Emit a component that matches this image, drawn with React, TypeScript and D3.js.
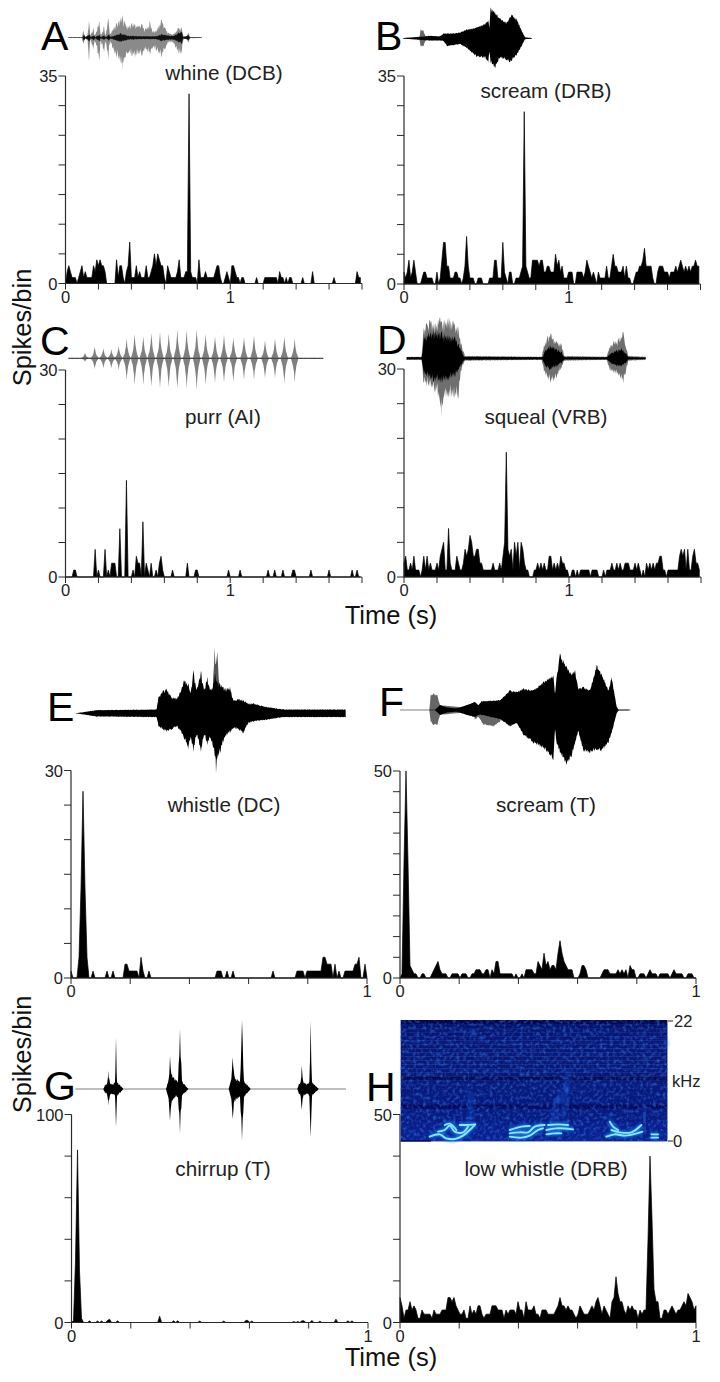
import React from "react";
import * as d3 from "d3";

// ---------- spike counts per bin ----------
const whineCounts = [0,2,3,2,1,1,1,0,1,2, 3,1,2,1,1,1,1,3,2,4, 3,4,3,3,2,0,0,0,0,0, 0,4,1,3,3,1,0,2,3,7, 1,1,1,3,1,2,1,1,1,3, 1,1,2,3,5,3,5,4,3,3, 1,0,3,2,1,1,1,1,2,4, 1,1,1,2,2,32,2,1,1,1, 0,4,1,1,1,2,1,1,1,1, 1,2,3,3,1,0,0,1,2,1, 0,3,3,2,1,1,0,1,1,0, 0,0,0,0,0,0,1,0,0,0, 0,1,1,1,1,1,1,1,1,0, 2,1,1,0,1,0,1,1,0,0, 0,0,0,0,1,0,0,0,0,0, 2,0,0,0,0,0,0,0,0,0, 0,0,0,1,0,0,0,0,0,0, 0,0,0,0,0,0,0,2,1,1];
const screamDrbCounts = [2,1,2,4,1,2,4,2,0,0, 0,1,2,2,1,1,1,1,0,0, 2,0,1,4,7,7,3,3,1,1, 1,2,2,1,1,0,1,3,8,3, 1,1,1,0,0,1,1,1,0,0, 0,0,1,1,1,4,4,1,1,1, 7,2,1,0,2,2,0,0,1,1, 1,2,3,29,3,2,1,1,4,4, 4,4,3,4,4,2,2,3,3,2, 2,2,5,3,4,2,3,1,1,1, 2,2,2,0,0,2,2,2,2,1, 2,4,3,2,1,2,1,0,2,1, 1,1,1,3,1,1,3,5,3,3, 2,2,2,3,1,3,1,1,0,0, 1,2,2,3,3,4,6,3,3,3, 3,1,0,0,2,3,3,3,2,2, 2,1,2,2,2,3,2,3,4,3, 2,3,2,3,2,3,3,4,3,3];
const purrSpikes = [[5,1],[6,1],[18,4],[20,1],[24,4],[26,1],[28,2],[29,2],[30,2],[33,7],[37,14],[41,1],[43,3],[44,2],[45,2],[47,8],[49,2],[50,1],[52,2],[55,1],[57,2],[58,3],[59,1],[65,1],[74,2],[79,1],[80,1],[99,1],[106,1],[123,1],[127,1],[132,1],[138,1],[139,1],[149,1],[160,1],[174,1],[177,1]];
const squealCounts = [2,3,1,1,2,1,3,1,1,1, 0,1,3,1,3,1,2,1,1,1, 2,1,3,4,5,1,1,7,2,1, 1,1,3,2,1,1,2,4,3,4, 6,5,3,3,4,4,2,2,1,1, 1,1,1,1,2,1,1,1,2,1, 3,5,18,4,3,4,1,5,3,5, 1,5,4,2,1,1,0,0,0,1, 1,2,1,2,1,2,1,1,3,3, 1,2,1,2,1,3,2,2,1,1, 0,0,1,1,0,1,0,1,1,1, 1,1,1,0,1,1,1,1,0,0, 0,1,0,1,1,1,2,1,1,2, 1,2,1,1,2,2,2,1,1,1, 2,1,2,1,0,1,0,2,1,2, 1,2,1,2,2,3,3,1,1,0, 1,1,1,1,1,1,1,3,4,3, 4,1,4,1,1,3,4,2,2,1];
const whistleSpikes = [[0,1],[4,3],[5,13],[6,27],[7,13],[8,3],[11,1],[18,1],[21,1],[27,2],[28,2],[29,1],[30,1],[31,1],[32,1],[33,1],[35,3],[36,1],[39,1],[73,1],[74,1],[75,1],[78,1],[81,1],[101,1],[113,1],[114,1],[115,1],[116,1],[118,1],[119,1],[120,1],[121,1],[122,1],[123,1],[124,1],[125,1],[126,3],[127,3],[128,2],[129,2],[130,2],[132,2],[134,1],[137,1],[138,1],[139,1],[140,1],[141,1],[142,2],[143,2],[144,3],[147,2]];
const screamTCounts = [0,1,28,50,28,3,2,1,1,0, 0,1,1,0,0,0,1,2,3,4, 2,1,1,1,0,0,1,1,1,1, 0,1,1,1,0,0,1,1,2,2, 2,1,1,2,2,0,2,1,4,4, 1,1,1,1,1,1,1,0,1,0, 0,1,0,2,2,2,2,1,1,4, 3,2,6,3,4,2,3,3,2,6, 9,6,4,3,2,2,2,0,0,0, 1,3,3,2,0,0,0,0,0,0, 0,1,2,2,2,1,1,1,1,2, 1,2,1,2,0,3,2,2,0,0, 1,1,1,0,1,2,1,1,1,0, 1,1,1,1,1,0,1,2,1,1, 1,1,0,0,1,1,1,0,0];
const chirrupSpikes = [[1,1],[2,30],[3,83],[4,25],[5,2],[9,0.8],[13,0.7],[15,0.7],[18,1],[19,1.6],[23,0.8],[44,3],[51,0.8],[53,0.8],[64,0.7],[76,0.7],[87,1],[88,1],[90,0.7],[111,0.5],[113,0.5],[115,0.8],[116,0.8],[120,1],[124,0.6],[132,1.6],[138,0.8],[140,0.8]];
const lowWhistleCounts = [6,4,1,3,3,5,3,4,3,1, 1,3,2,2,2,2,1,3,2,2, 2,3,3,3,6,6,5,6,4,3, 2,2,3,1,1,4,2,3,2,4, 4,2,1,2,2,2,4,4,4,3, 3,3,1,3,2,3,3,3,2,5, 3,3,1,5,3,3,3,4,2,2, 1,3,3,3,2, 2,2,2,3,4,6,4,4,3,4, 3,3,2,1,2,4,3,2,2,2, 3,4,3,5,6,4,2,4,3,2, 1,5,6,11,7,5,5,3,2,4, 3,4,3,3,1,3,2,3,3,20, 40,25,8,5,5,1,1,3,3,2, 3,4,3,2,3,3,4,5,4,7, 6,5,3,4];

// ---------- waveform envelopes: [sample, up, down] ----------
const whineGray = [[205,1,1],[245,1,1],[250,22,20],[254,4,4],[262,5,5],[267,50,72],[271,6,6],[280,30,35],[284,6,8],[298,50,70],[302,8,10],[312,35,45],[316,8,10],[325,58,65],[330,10,12],[340,30,40],[350,45,60],[358,55,70],[368,68,100],[375,45,60],[385,35,45],[395,45,55],[405,42,60],[415,35,50],[425,42,55],[435,25,40],[450,50,50],[458,20,30],[470,25,40],[485,55,60],[495,30,35],[505,15,15],[520,12,15],[535,30,50],[545,30,50],[550,6,6],[558,3,3],[565,15,15],[570,2,2],[605,1,1]];
const whineCore = [[205,1,1],[248,1,1],[252,10,10],[256,2,2],[268,12,12],[272,2,2],[282,8,8],[286,2,2],[298,10,12],[302,2,2],[312,7,7],[318,2,2],[326,10,10],[332,3,3],[350,9,10],[362,14,14],[375,10,10],[385,6,6],[400,6,6],[420,5,5],[440,5,5],[470,5,5],[485,12,12],[500,8,8],[520,6,6],[535,15,15],[545,18,18],[550,2,2],[565,8,8],[570,1,1],[605,1,1]];
const screamDrbGray = [[130,1,1],[178,1,1],[182,27,24],[190,24,24],[196,8,8],[205,2,2],[515,1,1]];
const screamDrbCore = [[130,1,1],[196,6,6],[210,8,7],[240,6,7],[250,15,8],[262,15,24],[280,15,21],[300,18,18],[320,27,30],[350,33,57],[375,45,60],[385,55,75],[388,30,40],[392,93,75],[405,81,90],[420,60,60],[440,48,66],[448,60,72],[455,72,69],[470,60,51],[485,24,24],[495,3,3],[515,1,1]];
const purrCenters = [255,284,310,334,356,380,404,430,454,480,506,532,560,590,617,645,672,700,732,762,795,825,853,884];
const purrUp = [17,35,30,27,37,60,73,67,77,80,75,87,85,87,73,67,73,63,65,70,55,60,67,60];
const purrDown = [10,33,30,30,35,65,80,80,85,90,87,91,91,95,80,75,73,70,65,65,60,60,75,73];
const purrLine = [[205,2,2],[970,2,2]];
const squealGray = [[140,5,5],[185,5,5],[190,95,70],[200,105,85],[210,115,85],[225,105,100],[240,125,130],[245,110,180],[250,115,120],[265,125,115],[280,110,120],[295,95,120],[305,40,30],[315,8,8],[545,5,5],[552,40,40],[562,65,60],[572,75,75],[580,60,70],[590,50,60],[605,45,30],[612,8,8],[740,5,5],[748,35,35],[760,50,45],[775,60,50],[790,80,75],[797,40,45],[805,8,8],[857,5,5]];
const squealCore = [[140,4,4],[185,4,4],[192,65,50],[205,75,60],[220,85,70],[245,80,75],[265,70,65],[285,65,55],[303,30,25],[312,5,5],[548,4,4],[555,25,25],[570,40,35],[590,30,25],[605,20,15],[612,4,4],[742,4,4],[750,15,15],[770,25,25],[785,30,25],[798,15,15],[805,4,4],[857,3,3]];
const whistleGray = [[636,40,40],[644,198,60],[648,150,180],[652,185,130],[658,90,60]];
const whistleCore = [[226,0,0],[290,10,10],[470,12,12],[475,50,40],[490,70,52],[500,75,55],[515,50,50],[530,45,40],[545,75,60],[552,100,75],[565,90,110],[572,60,70],[580,130,115],[590,70,65],[603,128,115],[612,70,65],[622,110,95],[630,70,75],[640,90,105],[645,120,130],[650,100,140],[660,90,120],[675,75,70],[690,80,60],[700,40,45],[715,45,50],[730,40,60],[745,30,30],[760,30,25],[800,20,20],[850,12,12],[1037,12,12]];
const screamTGray = [[208,1,1],[212,45,35],[220,50,45],[232,45,45],[240,15,15],[340,5,5],[345,10,30],[355,8,20],[370,15,45],[400,20,50],[420,20,35],[430,10,10]];
const screamTCore = [[120,1,1],[225,1,1],[240,15,15],[260,8,8],[290,5,5],[320,15,15],[345,25,22],[355,15,15],[365,27,15],[420,30,28],[450,60,50],[470,55,40],[490,65,75],[520,60,100],[550,85,115],[580,105,150],[585,50,60],[590,100,100],[600,170,130],[620,130,165],[635,110,140],[645,120,100],[655,65,65],[670,70,125],[690,60,130],[710,135,120],[725,110,125],[745,60,100],[755,100,70],[770,10,10],[775,2,2],[812,1,1]];
const chirrupCore = [[226,1,1],[310,1,1],[315,12,12],[322,20,20],[325,55,50],[330,18,18],[338,15,15],[345,22,22],[348,155,115],[351,22,22],[360,12,12],[370,1,1],[498,1,1],[502,15,15],[506,30,30],[510,100,95],[514,45,45],[526,30,25],[534,25,25],[540,180,133],[546,25,20],[555,12,12],[565,1,1],[686,1,1],[690,15,15],[694,30,30],[698,95,90],[703,40,40],[712,30,30],[720,25,25],[726,208,155],[732,25,25],[742,12,12],[752,1,1],[892,1,1],[897,15,15],[902,22,22],[905,70,62],[910,22,22],[922,15,15],[928,22,22],[932,205,145],[936,22,22],[945,12,12],[956,1,1],[1038,1,1]];
// fine serration of the sound traces
const grain = [1,0.62,0.9,0.74,1,0.55,0.84,0.97,0.68,0.88,0.6,1,0.78,0.93,0.58,0.86,1,0.7,0.95,0.64,0.82,0.52,1,0.76,0.9,0.66,0.98,0.6,0.85,0.72,1,0.57,0.92,0.8,0.65,1,0.74,0.88];

// ---------- spectrogram (panel H) ----------
const spectroBands = [0,0.3,0.42,0.38,0.4,0.45,0.4,0.42,0.45,0.4,0.45,0.42,0.5,0.42,0.12,0.45,0.5,0.46,0.5,0.48,0.52,0.12,0.5,0.55,0.55,0.6,0.62,0.65,0.68,0.7];
const spectroTraces = [
  [[95,365],[125,358],[145,370],[170,372],[195,362],[215,345],[232,328]],
  [[120,350],[140,345],[155,332],[170,350],[195,352],[210,335]],
  [[140,330],[155,326],[175,345]],
  [[185,330],[205,330],[230,328]],
  [[335,365],[370,368],[395,362],[420,345],[435,340]],
  [[335,355],[365,352],[390,352],[410,335],[440,330]],
  [[335,345],[370,335],[395,333]],
  [[445,345],[475,340],[525,343]],
  [[450,330],[480,328],[510,330]],
  [[445,358],[470,355],[490,355]],
  [[625,365],[650,358],[680,362],[705,358],[733,350]],
  [[640,345],[665,352],[700,352],[730,330]],
  [[635,320],[645,335],[660,345]],
  [[760,358],[780,358]],
  [[760,368],[780,368]],
];
const spectroFaint = [
  [[465,320],[470,280],[480,255],[490,250]],
  [[495,300],[505,225],[510,170]],
  [[635,310],[640,340]],
  [[150,330],[210,325],[215,235]],
  [[805,80],[805,90]],
];
const spectroSpots = [[738,300],[738,275],[740,185],[740,135],[738,95],[736,60],[480,255],[505,225],[120,140],[225,50]];

// ---------- labels ----------
const panelLetters = ["A","B","C","D","E","F","G","H"];
const panelTitles = ["whine (DCB)","scream (DRB)","purr (AI)","squeal (VRB)","whistle (DC)","scream (T)","chirrup (T)","low whistle (DRB)"];
const yMaxima = [35,35,30,30,30,50,100,50];
const yStep = [5,5,5,5,5,5,20,10];
const xMaxima = [1.8,1.8,1.8,1.8,1,1,1,1];

const FONT = "'Liberation Sans', Arial, sans-serif";

function fromSpikes(n: number, pairs: number[][]) {
  const out = new Array(n).fill(0);
  pairs.forEach(([i, v]) => { out[i] = v; });
  return out;
}
function purrEnvelope() {
  const out: number[][] = [];
  purrCenters.forEach((c, k) => {
    const u = purrUp[k], d = purrDown[k];
    out.push([c - 11, 2, 2], [c - 5, u * 0.32, d * 0.32], [c - 1, u * 0.8, d * 0.8], [c, u, d], [c + 1, u * 0.8, d * 0.8], [c + 5, u * 0.32, d * 0.32], [c + 11, 2, 2]);
  });
  return out;
}
// the read envelope plus the fine serration between its read points
function serrate(data: number[][], rough: number) {
  const ts = data.map(d => d[0]);
  const up = d3.scaleLinear().domain(ts).range(data.map(d => d[1]));
  const down = d3.scaleLinear().domain(ts).range(data.map(d => d[2]));
  const known = new Set(ts);
  const all = Array.from(new Set([...ts, ...d3.range(ts[0], ts[ts.length - 1], 2)])).sort((a, b) => a - b);
  return all.map((t, k) => {
    if (known.has(t)) return [t, up(t), down(t)];
    const g1 = 1 - rough * (1 - grain[k % grain.length]);
    const g2 = 1 - rough * (1 - grain[(k + 11) % grain.length]);
    return [t, up(t) * g1, down(t) * g2];
  });
}

const panels = [
  { x0: 65.5, x1: 362, y0: 283.5, y1: 76, bin: 0.01, counts: whineCounts, lx: 41, ly: 50, tx: 224, ty: 80 },
  { x0: 404, x1: 700.5, y0: 284, y1: 76, bin: 0.01, counts: screamDrbCounts, lx: 375, ly: 50, tx: 546, ty: 98 },
  { x0: 65.5, x1: 362, y0: 577, y1: 370, bin: 0.01, counts: fromSpikes(180, purrSpikes), lx: 40, ly: 355, tx: 223, ty: 424 },
  { x0: 404, x1: 701, y0: 577, y1: 369, bin: 0.01, counts: squealCounts, lx: 377, ly: 354, tx: 546, ty: 424 },
  { x0: 71, x1: 367, y0: 978, y1: 770.5, bin: 1 / 148, counts: fromSpikes(149, whistleSpikes), lx: 47, ly: 720.5, tx: 224, ty: 812 },
  { x0: 400, x1: 696, y0: 978, y1: 771, bin: 1 / 148, counts: screamTCounts, lx: 379, ly: 716, tx: 546, ty: 812 },
  { x0: 71.5, x1: 368, y0: 1322.5, y1: 1114.5, bin: 1 / 148, counts: fromSpikes(149, chirrupSpikes), lx: 44, ly: 1100, tx: 223, ty: 1176 },
  { x0: 400, x1: 696, y0: 1322.5, y1: 1114.5, bin: 1 / 148, counts: lowWhistleCounts, lx: 366, ly: 1101, tx: 546, ty: 1176 },
];

const waves = [
  { ox: 0, cy: 37.7, rough: 0.95, layers: [{ fill: "#8a8a8a", data: whineGray }, { fill: "#111", data: whineCore }] },
  { ox: 360, cy: 38.3, rough: 0.3, layers: [{ fill: "#666", data: screamDrbGray }, { fill: "#000", data: screamDrbCore }] },
  { ox: 0, cy: 358.3, rough: 0.35, layers: [{ fill: "#808080", data: purrEnvelope() }, { fill: "#444", data: purrLine }] },
  { ox: 360, cy: 358.3, rough: 0.75, layers: [{ fill: "#6f6f6f", data: squealGray }, { fill: "#000", data: squealCore }] },
  { ox: 0, cy: 713.3, rough: 0.35, layers: [{ fill: "#555", data: whistleGray }, { fill: "#000", data: whistleCore }] },
  { ox: 360, cy: 710, rough: 0.2, layers: [{ fill: "#666", data: screamTGray }, { fill: "#000", data: screamTCore }] },
  { ox: 0, cy: 1089, rough: 0.65, layers: [{ fill: "#000", data: chirrupCore }] },
];

function Waveform({ ox, cy, rough, layers }: any) {
  const amp = d3.scaleLinear().domain([0, 3]).range([0, 1]);
  const x = d3.scaleLinear().domain([0, 3]).range([ox, ox + 1]);
  return (
    <g>
      {layers.map((l: any, i: number) => {
        const area = d3.area<number[]>()
          .x(d => x(d[0]))
          .y0(d => cy + amp(d[2]))
          .y1(d => cy - amp(d[1]));
        return <path key={i} d={area(serrate(l.data, rough)) || ""} fill={l.fill} />;
      })}
    </g>
  );
}

function Panel({ i }: { i: number }) {
  const p = panels[i];
  const x = d3.scaleLinear().domain([0, xMaxima[i]]).range([p.x0, p.x1]);
  const y = d3.scaleLinear().domain([0, yMaxima[i]]).range([p.y0, p.y1]);
  const area = d3.area<number>()
    .x((_, k) => x(k * p.bin))
    .y0(p.y0)
    .y1(d => y(d));
  const yTicks = d3.range(0, yMaxima[i] + 0.001, yStep[i]);
  const xTicks = d3.range(0, xMaxima[i] + 0.001, 0.2);
  const stroke = "#2a2a2a";
  return (
    <g fontFamily={FONT}>
      <path d={area(p.counts) || ""} fill="#000" stroke="#000" strokeWidth={0.7} strokeLinejoin="round" />
      <line x1={p.x0} x2={p.x0} y1={p.y1} y2={p.y0 + 0.5} stroke={stroke} strokeWidth={1.2} />
      <line x1={p.x0} x2={p.x1} y1={p.y0} y2={p.y0} stroke={stroke} strokeWidth={1.2} />
      {yTicks.map(t => (
        <line key={t} x1={p.x0 - 7} x2={p.x0} y1={y(t)} y2={y(t)} stroke={stroke} strokeWidth={1} />
      ))}
      {xTicks.map(t => (
        <line key={t} x1={x(t)} x2={x(t)} y1={p.y0} y2={p.y0 + 6} stroke={stroke} strokeWidth={1} />
      ))}
      <text x={p.x0 - 8} y={y(0) + 6} textAnchor="end" fontSize={16.5} fill="#222">0</text>
      <text x={p.x0 - 8} y={y(yMaxima[i]) + 6} textAnchor="end" fontSize={16.5} fill="#222">{yMaxima[i]}</text>
      <text x={x(0)} y={p.y0 + 19} textAnchor="middle" fontSize={16.5} fill="#222">0</text>
      <text x={x(1)} y={p.y0 + 19} textAnchor="middle" fontSize={16.5} fill="#222">1</text>
      <text x={p.tx} y={p.ty} textAnchor="middle" fontSize={20.7} fill="#222">{panelTitles[i]}</text>
      <text x={p.lx} y={p.ly} fontSize={41} fill="#000">{panelLetters[i]}</text>
    </g>
  );
}

function Spectrogram() {
  // sample units of the trace lists → page position
  const x = d3.scaleLinear().domain([8, 808]).range([400.7, 667.4]);
  const y = d3.scaleLinear().domain([15, 378]).range([1020, 1141]);
  const rows = d3.scaleBand<number>().domain(d3.range(spectroBands.length)).range([1020, 1141]);
  const shade = d3.scaleLinear<string>().domain([0, 1]).range(["#04074e", "#0c2cae"]);
  const line = d3.line<number[]>().x(d => x(d[0])).y(d => y(d[1])).curve(d3.curveCatmullRom);
  return (
    <g>
      <defs>
        <filter id="specNoise" x="0" y="0" width="100%" height="100%">
          <feTurbulence type="fractalNoise" baseFrequency="0.3" numOctaves="2" seed="5" />
          <feColorMatrix type="matrix" values="0 0 0 0 0.03  0 0 0 0 0.2  0 0 0 0 0.85  0 0 0 1.5 -0.68" />
        </filter>
        <filter id="specBlur" x="-30%" y="-30%" width="160%" height="160%"><feGaussianBlur stdDeviation="0.7" /></filter>
        <filter id="specGlow" x="-50%" y="-50%" width="200%" height="200%"><feGaussianBlur stdDeviation="1.6" /></filter>
      </defs>
      {spectroBands.map((b, r) => (
        <rect key={r} x={400.7} y={rows(r)} width={266.7} height={rows.bandwidth() + 0.4} fill={shade(b)} />
      ))}
      <rect x={400.7} y={1020} width={266.7} height={121} filter="url(#specNoise)" />
      <g filter="url(#specGlow)" fill="none" stroke="#1f5fe0" strokeWidth={5} opacity={0.3} strokeLinecap="round">
        {spectroFaint.map((t, i) => <path key={i} d={line(t) || ""} />)}
      </g>
      <g filter="url(#specGlow)" fill="#2f7af0" opacity={0.7}>
        {spectroSpots.map((s, i) => <circle key={i} cx={x(s[0])} cy={y(s[1])} r={i < 6 ? 1.5 : 2} />)}
      </g>
      <g filter="url(#specGlow)" fill="none" stroke="#1f78e8" strokeWidth={4.5} opacity={0.85}>
        {spectroTraces.map((t, i) => <path key={i} d={line(t) || ""} />)}
      </g>
      <g filter="url(#specBlur)" fill="none" stroke="#86eaff" strokeWidth={1.9} strokeLinecap="round">
        {spectroTraces.map((t, i) => <path key={i} d={line(t) || ""} />)}
      </g>
      <line x1={400.7} x2={431} y1={1141} y2={1141} stroke="#06063a" strokeWidth={1.2} />
      <line x1={668} x2={673} y1={1021} y2={1021} stroke="#222" />
      <line x1={668} x2={673} y1={1141} y2={1141} stroke="#222" />
      <g fontFamily={FONT} fontSize={16.5} fill="#222">
        <text x={674} y={1027}>22</text>
        <text x={672} y={1087}>kHz</text>
        <text x={673} y={1147}>0</text>
      </g>
    </g>
  );
}

export default function App() {
  return (
    <svg width={720} height={1382} viewBox="0 0 720 1382"
      style={{ position: "absolute", left: 0, top: 0, display: "block", background: "#fff" }}>
      {waves.map((w, i) => <Waveform key={i} {...w} />)}
      {panels.map((_, i) => <Panel key={i} i={i} />)}
      <Spectrogram />
      <g fontFamily={FONT} fontSize={25.5} fill="#111">
        <text transform="translate(30.5,327.5) rotate(-90)" textAnchor="middle">Spikes/bin</text>
        <text transform="translate(30.5,1054.5) rotate(-90)" textAnchor="middle">Spikes/bin</text>
        <text x={391} y={624} textAnchor="middle">Time (s)</text>
        <text x={391} y={1366} textAnchor="middle">Time (s)</text>
      </g>
    </svg>
  );
}
